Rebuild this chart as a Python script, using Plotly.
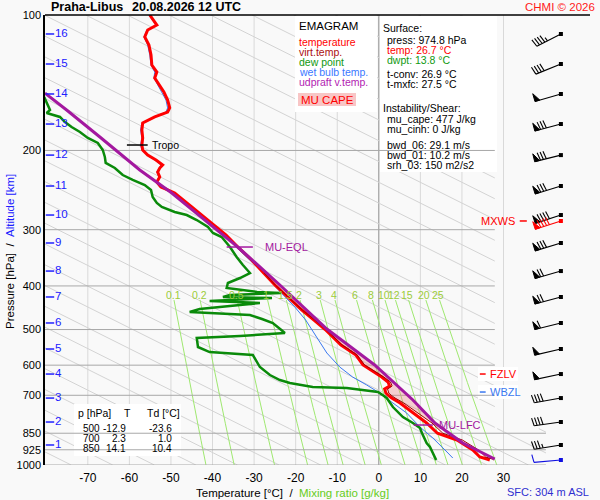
"""emagram Praha-Libus, 20.08.2026 12 UTC"""

import math
import plotly.graph_objects as go

# ---------------------------------------------------------------
# sounding (pressure hPa / temperature degC)
# ---------------------------------------------------------------
T_P = [100, 105.3, 108.0, 111.9, 116.6, 122.7, 129.2, 133.9, 138.0, 143.1,
       148.3, 154.5, 160.9, 164.3, 168.5, 173.8, 180.1, 187.6, 194.5, 199.5,
       204.7, 210.0, 215.4, 218.8, 223.3, 229.1, 235.0, 241.1, 248.6, 267.1,
       288.4, 308.2, 327.8, 350.3, 374.4, 398.1, 423.3, 452.5, 476.2, 500,
       541.2, 569.6, 599.5, 621.4, 637.5, 654.0, 667.6, 677.9, 691.9, 700,
       709.8, 728.2, 766.4, 806.7, 850, 880.0, 926.2, 960.0, 969.9, 974.8]
T_C = [-55.1, -53.4, -55.6, -56.3, -55.3, -54.8, -54.6, -53.4, -53.9, -52.7,
       -51.7, -50.8, -50.3, -50.8, -53.9, -56.8, -57.0, -56.8, -57.0, -56.8,
       -55.6, -53.6, -52.0, -52.7, -53.2, -52.7, -53.4, -52.4, -49.1, -45.0,
       -40.7, -36.8, -33.9, -30.6, -27.7, -25.0, -21.9, -18.5, -15.6, -12.9,
       -9.1, -5.5, -3.8, -1.0, 0.7, 2.2, 2.6, 1.4, 1.7, 2.3,
       3.1, 5.1, 8.2, 11.5, 14.1, 18.8, 22.6, 24.3, 26.0, 26.7]

# virtual temperature (only differs from T in the lower half)
TV_P = [374.4, 398.1, 423.3, 452.5, 476.2, 500, 541.2, 569.6, 599.5, 621.4,
        637.5, 654.0, 667.6, 677.9, 691.9, 700, 709.8, 728.2, 766.4, 806.7,
        850, 880.0, 926.2, 960.0, 969.9, 974.8]
TV_C = [-27.6, -24.9, -21.8, -18.4, -15.4, -12.7, -8.8, -5.2, -3.4, -0.6,
        1.2, 2.8, 3.2, 2.1, 2.4, 3.0, 3.9, 6.0, 9.3, 12.8,
        15.4, 20.1, 24.0, 25.7, 27.3, 27.6]

TD_P = [152.1, 158.5, 162.6, 165.1, 168.5, 172.9, 177.4, 182.0, 187.6, 192.5,
        199.5, 206.8, 213.2, 218.8, 226.8, 232.6, 238.7, 244.9, 253.8, 261.7,
        267.1, 274.0, 278.3, 285.5, 295.9, 305.1, 311.4, 327.8, 345.0, 359.4,
        374.4, 384.1, 394.1, 404.3, 412.6, 414.8, 419.0, 423.3, 425.5, 432.1,
        436.5, 441.0, 450.2, 457.1, 464.2, 473.8, 483.6, 500, 509.0, 516.9,
        522.2, 546.8, 555.2, 561.0, 569.6, 590.4, 605.7, 631.0, 647.4, 657.4,
        671.0, 674.4, 688.4, 700, 709.8, 743.3, 782.3, 806.7, 827.6, 850,
        893.6, 912.1, 940.5, 974.8]
TD_C = [-80.5, -79.6, -79.1, -79.9, -76.7, -75.5, -73.9, -71.9, -70.0, -67.6,
        -66.4, -65.9, -65.7, -63.5, -61.6, -59.2, -56.3, -54.8, -54.4, -53.4,
        -52.2, -49.1, -46.2, -43.8, -41.1, -39.9, -37.8, -35.8, -34.2, -32.7,
        -31.0, -33.4, -36.3, -36.6, -29.3, -23.5, -35.8, -37.5, -25.7, -40.7,
        -28.6, -33.4, -43.1, -45.5, -31.0, -28.1, -25.5, -23.6, -22.6, -33.4,
        -43.8, -43.5, -41.9, -40.7, -30.3, -29.3, -28.6, -26.2, -23.8, -21.4,
        -15.9, -7.7, -0.2, 1.0, 1.9, 3.4, 5.8, 8.2, 9.9, 10.4,
        11.5, 12.3, 13.0, 13.8]

TW_P = [100, 105.3, 108.0, 111.9, 116.6, 122.7, 129.2, 133.9, 138.0, 143.1,
        148.3, 154.5, 160.9, 164.3, 168.5, 173.8, 180.1, 187.6, 194.5, 199.5,
        204.7, 210.0, 215.4, 218.8, 223.3, 229.1, 235.0, 241.1, 248.6, 267.1,
        288.4, 308.2, 327.8, 350.3, 363.1, 382.2, 404.3, 414.8, 425.5, 445.6,
        476.2, 519.5, 563.8, 605.7, 637.5, 664.1, 688.4, 728.2, 766.4, 823.4,
        871.0, 935.7, 964.9]
TW_C = [-55.3, -53.6, -55.8, -56.5, -55.6, -55.1, -54.8, -53.9, -54.1, -53.2,
        -52.2, -51.2, -50.8, -51.2, -54.1, -57.0, -57.3, -57.0, -57.3, -57.0,
        -55.8, -53.9, -52.4, -52.9, -53.4, -52.9, -53.6, -52.7, -49.3, -45.2,
        -40.9, -37.0, -34.4, -31.0, -29.1, -26.7, -24.6, -23.4, -22.3, -20.2,
        -17.6, -14.9, -12.5, -9.4, -6.3, -2.9, -0.2, 3.4, 6.7, 9.9,
        13.0, 16.4, 17.8]

# most unstable parcel (virtual temperature)
PARCEL_P = [149.1, 162.6, 186.7, 221.0, 248.6, 288.4, 327.8, 398.1, 498.7,
            599.5, 631.0, 717.1, 806.7, 893.6, 969.9]
PARCEL_C = [-80.3, -75.1, -67.1, -57.5, -49.8, -41.4, -33.9, -23.8, -12.5,
            -1.0, 1.7, 8.2, 13.5, 20.2, 27.9]

# levels marked on the chart
TROPO_P = 194.5
EQL_P = 327.8
LFC_P = 815.0
FZLV_P = 627.8
WBZL_P = 688.4
MXWS_P = 286.9
CAPE_TOP_P = 327.8
CAPE_BASE_P = 806.7

# altitude scale
ALT_KM = [1, 2, 3, 4, 5, 6, 7, 8, 9, 10, 11, 12, 13, 14, 15, 16]
ALT_P = [902.7, 802.6, 710.0, 627.9, 552.4, 483.5, 423.3, 370.7, 321.1,
         278.3, 239.9, 204.8, 174.7, 149.8, 128.5, 110.2]

# winds at the altitude levels (direction deg, speed kt)
WIND_DIR = [261, 262, 260, 258, 257, 256, 255, 254, 253, 252, 253, 256, 255,
            254, 248, 243]
WIND_KT = [35, 40, 40, 50, 50, 60, 70, 70, 80, 90, 80, 80, 80, 50, 40, 45]
SFC_P, SFC_DIR, SFC_KT = 974.8, 265, 10
MXWS_DIR, MXWS_KT = 252, 90

MIX_RATIOS = [0.1, 0.2, 0.5, 1, 1.5, 2, 3, 4, 6, 8, 10, 12, 15, 20, 25]
MIX_LABELS = ["0.1", "0.2", "0.5", "1", "1.5", "2", "3", "4", "6", "8",
              "10", "12", "15", "20", "25"]

P_TICKS = [100, 200, 300, 400, 500, 600, 700, 850, 925, 1000]
T_TICKS = [-70, -60, -50, -40, -30, -20, -10, 0, 10, 20, 30]

TABLE_P = ["500", "700", "850"]
TABLE_T = ["-12.9", "2.3", "14.1"]
TABLE_TD = ["-23.6", "1.0", "10.4"]

INFO_TEXT = ["Surface:", "press: 974.8 hPa", "temp: 26.7 °C", "dwpt: 13.8 °C",
             "t-conv: 26.9 °C", "t-mxfc: 27.5 °C", "Instability/Shear:",
             "mu_cape: 477 J/kg", "mu_cinh: 0 J/kg", "bwd_06: 29.1 m/s",
             "bwd_01: 10.2 m/s", "srh_03: 150 m2/s2"]
LEGEND_TEXT = ["temperature", "virt.temp.", "dew point", "wet bulb temp.",
               "udpraft v.temp."]

# ---------------------------------------------------------------
# geometry
# ---------------------------------------------------------------
FIG_W, FIG_H = 600, 500
M_L, M_R, M_T, M_B = 45, 10, 15, 35
PLOT_W = FIG_W - M_L - M_R
PLOT_H = FIG_H - M_T - M_B
X_MIN, X_MAX = -80.3, 50.8
PX_PER_C = PLOT_W / (X_MAX - X_MIN)
PX_PER_DEC = PLOT_H          # 100 .. 1000 hPa is one decade

FONT = "Liberation Sans, Arial, sans-serif"
RED = "#ff0000"
VIRT = "#a00000"
GREEN = "#0a8a0a"
BLUE = "#3a78f0"
PURPLE = "#a3189f"
ALT_BLUE = "#2020ff"
MIX_GREEN = "#9fe870"
MIX_LABEL = "#9ccc3a"
NBSP = "\u00a0"


def paper(px, py):
    """pixel in the picture -> paper coords"""
    return (px - M_L) / PLOT_W, (FIG_H - M_B - py) / PLOT_H


def to_data(px, py):
    """pixel in the picture -> (degC, hPa)"""
    return X_MIN + (px - M_L) / PX_PER_C, 10 ** (2 + (py - M_T) / PX_PER_DEC)


def shift(t, p, dx, dy):
    """move (t, p) by dx px to the right and dy px up"""
    return t + dx / PX_PER_C, p * 10 ** (-dy / PX_PER_DEC)


def dewpoint_from_mix(w, p):
    e = w * p / (622.0 + w)
    a = math.log(e / 6.112)
    return 243.5 * a / (17.67 - a)


def line_trace(xs, ys, color, width, fill=None, fillcolor=None):
    return go.Scatter(x=xs, y=ys, mode="lines", line=dict(color=color, width=width),
                      fill=fill, fillcolor=fillcolor, hoverinfo="skip",
                      showlegend=False, connectgaps=False)


def box_trace(x0, y0, x1, y1, color):
    pts = [to_data(a, b) for a, b in [(x0, y0), (x1, y0), (x1, y1), (x0, y1), (x0, y0)]]
    return line_trace([a for a, b in pts], [b for a, b in pts], color, 0,
                      fill="toself", fillcolor=color)


def barb(t0, p0, wdir, kt, lines, tris, L=27, F=8):
    """wind barb glyph, station at (t0, p0)"""
    ex = math.sin(math.radians(wdir))
    ey = math.cos(math.radians(wdir))
    nx, ny = ey, -ex

    def pt(s, h=0.0):
        return shift(t0, p0, ex * s + nx * h, ey * s + ny * h)

    def seg(pts, out):
        for a in pts:
            out[0].append(a[0])
            out[1].append(a[1])
        out[0].append(None)
        out[1].append(None)

    seg([pt(0), pt(L)], lines)
    n = int(round(kt / 5.0))
    n50, n = divmod(n, 10)
    n10, n5 = divmod(n, 2)
    s = L
    for i in range(n50):
        seg([pt(s), pt(s, F), pt(s - 5), pt(s)], tris)
        s -= 6
    for i in range(n10):
        seg([pt(s), pt(s + 1.5, F)], lines)
        s -= 3
    if n5:
        seg([pt(s), pt(s + 0.8, F / 2)], lines)


fig = go.Figure()

# vertical temperature grid
for t in T_TICKS:
    fig.add_trace(line_trace([t, t], [100, 1000],
                             "#8c8c8c" if t == 0 else "#d9d9d9", 1))

# sloping background lines
DIAG_SLOPE = 216.5
dx_, dy_ = [], []
for t0 in range(-84, 276, 10):
    for pa, pb, tmax in [(100, 830, 27.9), (830, 1000, 40.2)]:
        lo = max(math.log10(pa), 3 + (X_MIN - t0) / DIAG_SLOPE)
        hi = min(math.log10(pb), 3 + (tmax - t0) / DIAG_SLOPE)
        if hi > lo:
            dx_ += [t0 + DIAG_SLOPE * (lo - 3), t0 + DIAG_SLOPE * (hi - 3), None]
            dy_ += [10 ** lo, 10 ** hi, None]
fig.add_trace(line_trace(dx_, dy_, "#d3d3d3", 1))

# mixing ratio lines
mx, my = [], []
for w in MIX_RATIOS:
    for i in range(21):
        p = 430 * (1000 / 430) ** (i / 20)
        mx.append(dewpoint_from_mix(w, p))
        my.append(p)
    mx.append(None)
    my.append(None)
fig.add_trace(line_trace(mx, my, MIX_GREEN, 1))

# white boxes
for b in [(295, 16, 377, 112), (380, 16, 497, 172), (74, 404, 181, 456),
          (478, 367, 518, 381), (478, 385, 518, 399)]:
    fig.add_trace(box_trace(*b, "#ffffff"))
fig.add_trace(box_trace(298, 93, 356, 106, "#f8c6c6"))

# horizontal pressure grid
gx, gy = [], []
for p in P_TICKS[1:]:
    gx += [X_MIN, 40.2 if p >= 850 else 27.9, None]
    gy += [p, p, None]
fig.add_trace(line_trace(gx, gy, "#a8a8a8", 1))

# CAPE area
env_p = [p for p in T_P if p < TV_P[0]] + TV_P
env_c = [c for p, c in zip(T_P, T_C) if p < TV_P[0]] + TV_C
cx = [c for p, c in zip(PARCEL_P, PARCEL_C) if CAPE_TOP_P <= p <= CAPE_BASE_P]
cy = [p for p in PARCEL_P if CAPE_TOP_P <= p <= CAPE_BASE_P]
back = [(p, c) for p, c in zip(env_p, env_c) if CAPE_TOP_P <= p <= CAPE_BASE_P][::-1]
cx += [c for p, c in back]
cy += [p for p, c in back]
fig.add_trace(line_trace(cx, cy, "rgba(0,0,0,0)", 0, fill="toself",
                         fillcolor="rgba(238,120,120,0.33)"))

# profiles
fig.add_trace(line_trace(TW_C, TW_P, BLUE, 1))
fig.add_trace(line_trace(TD_C, TD_P, GREEN, 2.5))
fig.add_trace(line_trace(T_C, T_P, RED, 3))
fig.add_trace(line_trace(TV_C, TV_P, VIRT, 1))
fig.add_trace(line_trace(PARCEL_C, PARCEL_P, PURPLE, 3))

# level markers
fig.add_trace(line_trace([-60.6, -55.6], [TROPO_P, TROPO_P], "#000000", 1.5))
fig.add_trace(line_trace([-36.6, -30.3], [EQL_P, EQL_P], PURPLE, 1.5))
fig.add_trace(line_trace([8.4, 13.0], [LFC_P, LFC_P], PURPLE, 1.5))
fig.add_trace(line_trace([24.3, 25.7], [FZLV_P, FZLV_P], RED, 1.5))
fig.add_trace(line_trace([24.3, 25.7], [WBZL_P, WBZL_P], BLUE, 1.5))
fig.add_trace(line_trace([33.9, 35.6], [MXWS_P, MXWS_P], RED, 1.5))

# wind barbs
T_STN = 43.8
for color, levels in [("#000000", list(zip(ALT_P, WIND_DIR, WIND_KT))),
                      (RED, [(MXWS_P, MXWS_DIR, MXWS_KT)]),
                      ("#1010e0", [(SFC_P, SFC_DIR, SFC_KT)])]:
    lines, tris = ([], []), ([], [])
    for p, d, v in levels:
        barb(T_STN, p, d, v, lines, tris)
    fig.add_trace(line_trace(lines[0], lines[1], color, 1.1))
    if tris[0]:
        fig.add_trace(line_trace(tris[0], tris[1], color, 1, fill="toself",
                                 fillcolor=color))
    fig.add_trace(go.Scatter(x=[T_STN] * len(levels), y=[l[0] for l in levels],
                             mode="markers", hoverinfo="skip", showlegend=False,
                             marker=dict(symbol="square", size=4, color=color)))

# altitude scale
fig.add_trace(go.Scatter(x=[-79.1] * len(ALT_P), y=ALT_P, mode="markers",
                         hoverinfo="skip", showlegend=False,
                         marker=dict(symbol="line-ew", size=6,
                                     line=dict(width=1.5, color=ALT_BLUE))))
fig.add_trace(go.Scatter(x=[-77.9] * len(ALT_P), y=ALT_P, mode="text",
                         text=[str(k) for k in ALT_KM], textposition="middle right",
                         textfont=dict(size=11.5, color=ALT_BLUE, family=FONT),
                         hoverinfo="skip", showlegend=False))

# ---------------------------------------------------------------
# texts
# ---------------------------------------------------------------
ann = []


def text_px(px, py, txt, color="#000000", size=10.5, anchor="left", **kw):
    x, y = paper(px, py)
    ann.append(dict(x=x, y=y, xref="paper", yref="paper", text=txt,
                    showarrow=False, xanchor=anchor, yanchor="middle",
                    font=dict(family=FONT, size=size, color=color), **kw))


def text_data(t, p, txt, color, size=10.5, anchor="left"):
    ann.append(dict(x=t, y=math.log10(p), xref="x", yref="y", text=txt,
                    showarrow=False, xanchor=anchor, yanchor="middle",
                    font=dict(family=FONT, size=size, color=color)))


text_px(49, 7, "<b>Praha-Libus</b>", size=12.5)
text_px(130, 7, "<b>20.08.2026 12 UTC</b>", size=12.5)
text_px(597, 7, "CHMI © 2026", "#ff1a1a", 11.5, "right")
text_px(591, 492, "SFC: 304 m ASL", "#3030d0", 11, "right")
text_px(292, 493, "Temperature [°C]" + NBSP * 2 + "/" + NBSP * 2 +
        "<span style='color:#66cc22'>Mixing ratio [g/kg]</span>",
        size=11.5, anchor="center")
text_px(10, 252, "Pressure [hPa]" + NBSP * 2 + "/" + NBSP * 2 +
        "<span style='color:%s'>Altitude [km]</span>" % ALT_BLUE,
        size=11.5, anchor="center", textangle=-90)

# legend box
text_px(297, 26, "EMAGRAM", size=11.5)
for txt, col, y in zip(LEGEND_TEXT, [RED, "#aa1010", "#119911", "#3a78ff", "#b21cb2"],
                       [42, 52, 62, 72, 82]):
    text_px(297, y, txt, col)
text_px(327, 100, "MU CAPE", RED, 11.5, "center")

# surface / instability box
info_y = [28, 40, 50, 60, 74, 84, 108, 119, 129, 145, 155, 165]
for txt, y in zip(INFO_TEXT, info_y):
    col = RED if txt.startswith("temp") else ("#119911" if txt.startswith("dwpt") else "#000000")
    indent = txt.endswith(":")
    text_px(381 if indent else 385, y, txt, col)

# table
text_px(76, 413, "p [hPa]")
text_px(127, 413, "T", anchor="center")
text_px(145, 413, "Td [°C]")
for i, y in enumerate([428, 438, 448]):
    text_px(102, y, TABLE_P[i], size=10, anchor="right")
    text_px(128, y, TABLE_T[i], size=10, anchor="right")
    text_px(174, y, TABLE_TD[i], size=10, anchor="right")

# mixing ratio labels
for w, lab in zip(MIX_RATIOS, MIX_LABELS):
    text_data(dewpoint_from_mix(w, 419), 419, lab, MIX_LABEL, 10.5, "center")

# level labels
text_data(-55.1, TROPO_P, "Tropo", "#000000")
text_data(-27.9, EQL_P, "MU-EQL", PURPLE, 11)
text_data(14.0, LFC_P, "MU-LFC", PURPLE, 11)
text_data(26.2, FZLV_P, "FZLV", RED, 11)
text_data(26.2, WBZL_P, "WBZL", BLUE, 11)
text_data(33.2, MXWS_P, "MXWS", RED, 11, "right")

fig.update_layout(
    width=FIG_W, height=FIG_H,
    margin=dict(l=M_L, r=M_R, t=M_T, b=M_B, pad=0),
    paper_bgcolor="#f9f9f9", plot_bgcolor="#f9f9f9",
    font=dict(family=FONT, size=11, color="#000000"),
    showlegend=False, hovermode=False,
    annotations=ann,
    shapes=[dict(type="line", xref="paper", yref="paper", x0=0, x1=1, y0=1, y1=1,
                 line=dict(color="#000000", width=1.5))],
    xaxis=dict(range=[X_MIN, X_MAX], tickvals=T_TICKS,
               ticktext=[str(t) for t in T_TICKS], showgrid=False,
               zeroline=False, showline=False, ticks="", ticklabelstandoff=4,
               tickfont=dict(size=12, color="#000000")),
    yaxis=dict(type="log", range=[3, 2], tickvals=P_TICKS,
               ticktext=[str(p) for p in P_TICKS], showgrid=False,
               zeroline=False, showline=True, linecolor="#000000", linewidth=1.5,
               ticks="", tickfont=dict(size=11, color="#000000")),
)

# page body has a default 8px margin, drop it so the figure sits at 0,0
fig.write_html("out.html", config={"displayModeBar": False},
               post_script="document.body.style.margin='0px';")
